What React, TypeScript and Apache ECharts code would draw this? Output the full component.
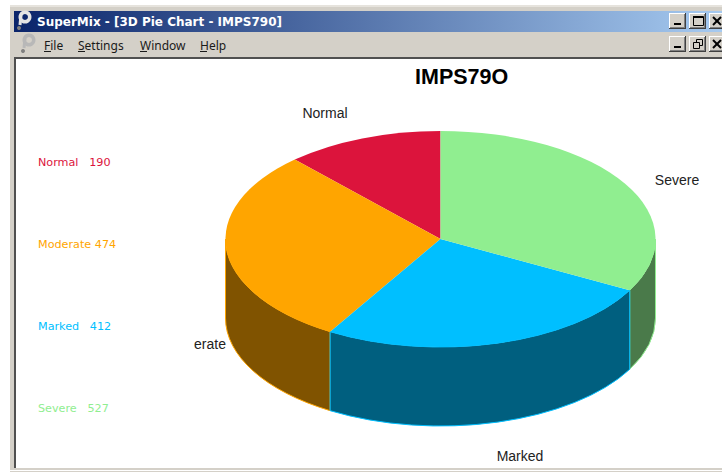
import React, { useEffect, useRef } from "react";
import * as echarts from "echarts";

const categories = ["Normal", "Moderate", "Marked", "Severe"];
const values = [190, 474, 412, 527];
const colors = ["#dc143c", "#ffa500", "#00bfff", "#90ee90"];
const sideColors = ["#6e0a1e", "#805300", "#005f7f", "#4a7a4a"];
const legendGaps = ["   ", " ", "   ", "   "];
const pieLabels = ["Normal", "erate", "Marked", "Severe"];
const pieLabelPos = [[325, 113], [210, 344], [520, 456], [677, 180]];
const legendY = [162, 244, 326, 408];
const menuItems = ["File", "Settings", "Window", "Help"];
const menuX = [44, 78, 140, 200];
const windowTitle = "SuperMix - [3D Pie Chart - IMPS790]";
const chartTitle = "IMPS79O";

const CX = 440.5, CY = 239, RX = 215, RY = 108, DEPTH = 79;
const total = values.reduce((a, b) => a + b, 0);
const rad = (d: number) => (d * Math.PI) / 180;
const px = (a: number) => CX - RX * Math.sin(rad(a));
const py = (a: number) => CY - RY * Math.cos(rad(a));
const startAngle = (i: number) => (values.slice(0, i).reduce((a, b) => a + b, 0) / total) * 360;

function topItem(params: any) {
  const i = params.dataIndex;
  const a1 = startAngle(i), a2 = startAngle(i + 1);
  const large = a2 - a1 > 180 ? 1 : 0;
  return {
    type: "path",
    shape: { pathData: `M${CX} ${CY}L${px(a1)} ${py(a1)}A${RX} ${RY} 0 ${large} 0 ${px(a2)} ${py(a2)}Z` },
    style: { fill: colors[i], stroke: null },
  };
}

function sideItem(params: any) {
  const i = params.dataIndex;
  const a1 = Math.max(startAngle(i), 90), a2 = Math.min(startAngle(i + 1), 270);
  if (a2 <= a1) return null;
  return {
    type: "path",
    z2: 200 - Math.abs((a1 + a2) / 2 - 180),
    shape: {
      pathData:
        `M${px(a1)} ${py(a1)}A${RX} ${RY} 0 0 0 ${px(a2)} ${py(a2)}` +
        `L${px(a2)} ${py(a2) + DEPTH}A${RX} ${RY} 0 0 1 ${px(a1)} ${py(a1) + DEPTH}Z`,
    },
    style: { fill: sideColors[i], stroke: colors[i], lineWidth: 1 },
  };
}

const rect = (x: number, y: number, width: number, height: number, fill: any, z = 0) => ({
  type: "rect", z, shape: { x, y, width, height }, style: { fill },
});
const line = (x1: number, y1: number, x2: number, y2: number, stroke: string, lineWidth = 1, z = 3) => ({
  type: "line", z, shape: { x1, y1, x2, y2 }, style: { stroke, lineWidth },
});

function button(x: number, y: number, w: number, h: number, glyph: string) {
  const els: any[] = [
    rect(x, y, w, h, "#404040", 2),
    rect(x, y, w - 1, h - 1, "#ffffff", 2),
    rect(x + 1, y + 1, w - 2, h - 2, "#808080", 2),
    rect(x + 1, y + 1, w - 3, h - 3, "#d4d0c8", 2),
  ];
  const gx = x + 4, gy = y + 3;
  if (glyph === "min") els.push(rect(gx + 1, y + h - 6, 7, 2, "#000000", 3));
  if (glyph === "max") {
    els.push(rect(gx, gy, 10, 2, "#000000", 3));
    els.push({ type: "rect", z: 3, shape: { x: gx + 0.5, y: gy + 0.5, width: 10, height: 9 }, style: { fill: null, stroke: "#000000", lineWidth: 1 } });
  }
  if (glyph === "restore") {
    els.push({ type: "rect", z: 3, shape: { x: gx + 3.5, y: gy + 0.5, width: 6, height: 6 }, style: { fill: null, stroke: "#000000", lineWidth: 1 } });
    els.push({ type: "rect", z: 4, shape: { x: gx + 0.5, y: gy + 3.5, width: 6, height: 6 }, style: { fill: "#d4d0c8", stroke: "#000000", lineWidth: 1 } });
  }
  if (glyph === "close") {
    els.push(line(gx, gy + 1, gx + 8, gy + 9, "#000000", 2));
    els.push(line(gx + 8, gy + 1, gx, gy + 9, "#000000", 2));
  }
  return els;
}

function logo(x: number, y: number, color: string) {
  return [
    { type: "ring", z: 3, shape: { cx: x + 8, cy: y + 5, r: 6.5, r0: 3 }, style: { fill: color } },
    line(x + 4, y + 3, x + 3, y + 13, color, 3),
    { type: "circle", z: 3, shape: { cx: x + 2, cy: y + 16, r: 2 }, style: { fill: "#808080" } },
  ];
}

function chromeElements() {
  const els: any[] = [
    rect(0, 0, 722, 472, "#ffffff", 0),
    rect(10, 5, 712, 465, "#d4d0c8", 1),
    rect(10, 5, 712, 2, "#e6e3dd", 1),
    rect(10, 470, 712, 1, "#ffffff", 1),
    rect(10, 471, 712, 1, "#d4d0c8", 1),
    rect(14, 11, 708, 21, {
      type: "linear", x: 0, y: 0, x2: 1, y2: 0,
      colorStops: [{ offset: 0, color: "#0a246a" }, { offset: 1, color: "#a6caf0" }],
    }, 1),
    rect(14, 57, 708, 411, "#ffffff", 1),
    rect(14, 57, 708, 2, "#505050", 2),
    rect(14, 57, 2, 411, "#505050", 2),
    ...logo(17, 12, "#e4e4e4"),
    ...logo(21, 35, "#b8b8b8"),
    {
      type: "text", z: 3, x: 37, y: 22,
      style: { text: windowTitle, fill: "#ffffff", font: 'bold 12px "DejaVu Sans"', textVerticalAlign: "middle" },
    },
    ...button(669, 13, 17, 16, "min"),
    ...button(689, 13, 17, 16, "max"),
    ...button(709, 13, 17, 16, "close"),
    ...button(669, 36, 17, 16, "min"),
    ...button(689, 36, 17, 16, "restore"),
    ...button(709, 36, 17, 16, "close"),
  ];
  menuItems.forEach((m, i) => {
    els.push({
      type: "text", z: 3, x: menuX[i], y: 45,
      style: { text: m, fill: "#1a1a1a", font: '12px "Noto Sans"', textVerticalAlign: "middle" },
    });
    els.push(line(menuX[i], 51.5, menuX[i] + 7, 51.5, "#1a1a1a", 1));
  });
  categories.forEach((c, i) => {
    els.push({
      type: "text", z: 3, x: 38, y: legendY[i],
      style: { text: `${c}${legendGaps[i]}${values[i]}`, fill: colors[i], font: '11.2px "DejaVu Sans"', textVerticalAlign: "middle" },
    });
  });
  pieLabels.forEach((l, i) => {
    els.push({
      type: "text", z: 3, x: pieLabelPos[i][0], y: pieLabelPos[i][1],
      style: { text: l, fill: "#222222", font: '14px "Liberation Sans"', textAlign: "center", textVerticalAlign: "middle" },
    });
  });
  return els;
}

export default function App() {
  const ref = useRef<HTMLDivElement>(null);
  useEffect(() => {
    document.body.style.margin = "0";
    const chart = echarts.init(ref.current!, null, { renderer: "svg" });
    const data = categories.map((name, i) => ({ name, value: values[i] }));
    chart.setOption({
      animation: false,
      title: {
        text: chartTitle, left: 415, top: 66, z: 10, padding: 0,
        textStyle: { fontFamily: "Liberation Sans", fontWeight: "bold", fontSize: 21.5, color: "#000000" },
      },
      graphic: { elements: chromeElements() },
      series: [
        { type: "custom", coordinateSystem: "none", z: 5, renderItem: sideItem, data, silent: true },
        { type: "custom", coordinateSystem: "none", z: 6, renderItem: topItem, data, silent: true },
      ],
    });
    return () => chart.dispose();
  }, []);
  return <div ref={ref} style={{ width: 722, height: 472, overflow: "hidden" }} />;
}
